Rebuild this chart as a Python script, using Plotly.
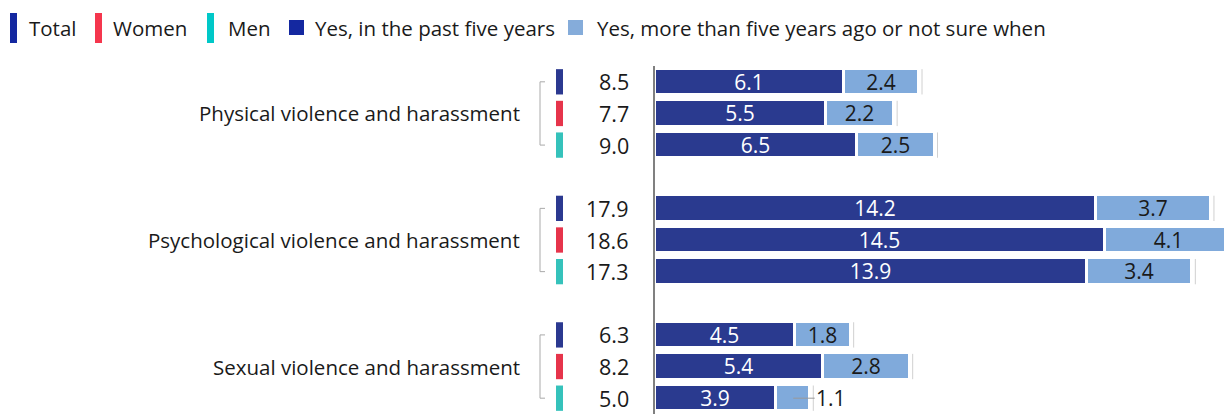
import plotly.graph_objects as go

# ---------------- data ----------------
categories = ["Physical violence and harassment",
              "Psychological violence and harassment",
              "Sexual violence and harassment"]
groups = ["Total", "Women", "Men"]
past_five = [[6.1, 5.5, 6.5], [14.2, 14.5, 13.9], [4.5, 5.4, 3.9]]
earlier = [[2.4, 2.2, 2.5], [3.7, 4.1, 3.4], [1.8, 2.8, 1.1]]
totals = [[8.5, 7.7, 9.0], [17.9, 18.6, 17.3], [6.3, 8.2, 5.0]]
series_names = ["Yes, in the past five years",
                "Yes, more than five years ago or not sure when"]

# ---------------- style ----------------
W, H = 1224, 414
ML, MR, MT, MB = 655, 0, 66, 0
PW, PH = W - ML - MR, H - MT - MB
FONT = "Open Sans"
TXT = "#1a1a1a"
DARK = "#2a3a8f"
LIGHT = "#80aadb"
group_colors = ["#2b3990", "#e6344b", "#35c2bb"]
legend_colors = ["#1428a0", "#f5364d", "#00c8c8"]
legend_sq = ["#1428a0", "#85acda"]
LBL = 20.5
NUM = 21.5
BARTXT = 21


def xp(px):
    return (px - ML) / PW


def yp(py):
    return (H - py) / PH


rows, v1, v2, tot = [], [], [], []
for gi in range(len(categories)):
    for ri in range(len(groups)):
        rows.append(gi * 4 + ri)
        v1.append(past_five[gi][ri])
        v2.append(earlier[gi][ri])
        tot.append(totals[gi][ri])

fig = go.Figure()
fig.add_trace(go.Bar(
    y=rows, x=v1, orientation="h", name=series_names[0], width=0.84,
    marker=dict(color=DARK, line=dict(color="white", width=3)),
    text=[f"{v:.1f}" for v in v1], textposition="inside", insidetextanchor="middle",
    textangle=0, textfont=dict(color="white", size=BARTXT, family=FONT),
    showlegend=False, hoverinfo="x"))
fig.add_trace(go.Bar(
    y=rows, x=v2, orientation="h", name=series_names[1], width=0.84,
    marker=dict(color=LIGHT, line=dict(color="white", width=3)),
    text=[f"{v:.1f}" if v >= 1.5 else "" for v in v2], textposition="inside",
    insidetextanchor="middle", textangle=0,
    textfont=dict(color=TXT, size=BARTXT, family=FONT),
    showlegend=False, hoverinfo="x"))

shapes, annotations = [], []

# faint end line after each stacked bar
for r, t in zip(rows, tot):
    shapes.append(dict(type="line", xref="x", yref="y", xsizemode="pixel", xanchor=t,
                       x0=3, x1=3, y0=r - 0.4, y1=r + 0.4,
                       line=dict(color="#d0d0d0", width=1)))

# outside label for tiny segments
for r, a, b in zip(rows, v1, v2):
    if b < 1.5:
        annotations.append(dict(xref="x", yref="y", x=a + b / 2, y=r, text=f"{b:.1f}",
                                showarrow=True, arrowhead=0, arrowwidth=1, arrowcolor="#999999",
                                ax=38, ay=0, standoff=0,
                                font=dict(size=BARTXT, color=TXT, family=FONT)))

# totals + group markers + category labels + brackets
for gi, cat in enumerate(categories):
    r0 = gi * 4
    annotations.append(dict(xref="paper", yref="y", x=xp(522), y=r0 + 1, text=cat,
                            xanchor="right", yanchor="middle", showarrow=False,
                            font=dict(size=LBL, color=TXT, family=FONT)))
    shapes.append(dict(type="line", xref="paper", yref="y", x0=xp(540), x1=xp(540),
                       y0=r0, y1=r0 + 2, line=dict(color="#aaaaaa", width=1)))
    for yy in (r0, r0 + 2):
        shapes.append(dict(type="line", xref="paper", yref="y", x0=xp(540), x1=xp(545),
                           y0=yy, y1=yy, line=dict(color="#aaaaaa", width=1)))
    for ri in range(len(groups)):
        r = r0 + ri
        shapes.append(dict(type="rect", xref="paper", yref="y", x0=xp(556), x1=xp(563),
                           y0=r - 0.4, y1=r + 0.4, fillcolor=group_colors[ri], line=dict(width=0)))
        annotations.append(dict(xref="paper", yref="y", x=xp(631), y=r,
                                text=f"{totals[gi][ri]:.1f}", xanchor="right", yanchor="middle",
                                showarrow=False, font=dict(size=NUM, color=TXT, family=FONT)))

# manual legend
leg_bar_x = [10, 95, 207]
leg_bar_tx = [27, 111, 226]
for i, g in enumerate(groups):
    shapes.append(dict(type="rect", xref="paper", yref="paper",
                       x0=xp(leg_bar_x[i]), x1=xp(leg_bar_x[i] + 7), y0=yp(43), y1=yp(13),
                       fillcolor=legend_colors[i], line=dict(width=0)))
    annotations.append(dict(xref="paper", yref="paper", x=xp(leg_bar_tx[i]), y=yp(28), text=g,
                            xanchor="left", yanchor="middle", showarrow=False,
                            font=dict(size=LBL, color=TXT, family=FONT)))
leg_sq_x = [289, 568]
leg_sq_tx = [313, 595]
for i, s in enumerate(series_names):
    shapes.append(dict(type="rect", xref="paper", yref="paper",
                       x0=xp(leg_sq_x[i]), x1=xp(leg_sq_x[i] + 15), y0=yp(35), y1=yp(20),
                       fillcolor=legend_sq[i], line=dict(width=0)))
    annotations.append(dict(xref="paper", yref="paper", x=xp(leg_sq_tx[i]), y=yp(28), text=s,
                            xanchor="left", yanchor="middle", showarrow=False,
                            font=dict(size=LBL, color=TXT, family=FONT)))

fig.update_layout(
    width=W, height=H, margin=dict(l=ML, r=MR, t=MT, b=MB, autoexpand=False),
    barmode="stack", bargap=0, plot_bgcolor="white", paper_bgcolor="white",
    font=dict(family=FONT, size=LBL, color=TXT),
    uniformtext=dict(mode="show", minsize=BARTXT),
    xaxis=dict(range=[0, 18.32], visible=False, fixedrange=True),
    yaxis=dict(range=[10.5, -0.5], showticklabels=False, ticks="", showgrid=False,
               zeroline=False, showline=True, linecolor="#808080", linewidth=2,
               fixedrange=True),
    shapes=shapes, annotations=annotations, showlegend=False,
)

fig.write_html("out.html", config={"displayModeBar": False},
               post_script="document.body.style.margin='0';document.body.style.overflow='hidden';")
